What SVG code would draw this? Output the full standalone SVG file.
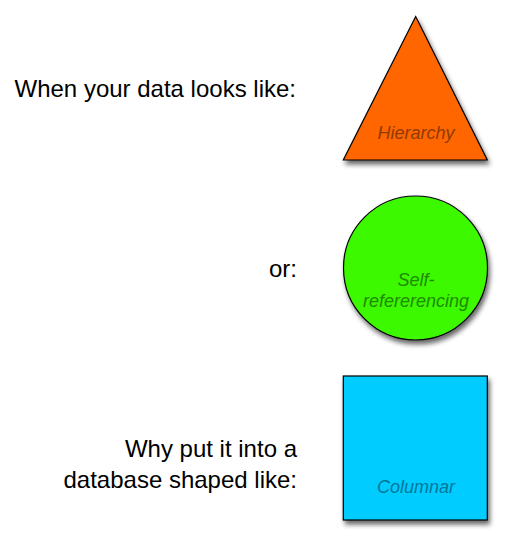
<svg xmlns="http://www.w3.org/2000/svg" width="507" height="544" viewBox="0 0 507 544">
<style>
.t{font-family:"Liberation Sans",Arial,sans-serif;font-size:24px;fill:#000;text-anchor:end}
.l{font-family:"Liberation Sans",Arial,sans-serif;font-size:18px;font-style:italic;text-anchor:middle}
.s{stroke:#000;stroke-width:1.2}
</style>
<defs>
<filter id="sh" x="-20%" y="-20%" width="140%" height="140%">
<feGaussianBlur in="SourceAlpha" stdDeviation="2.5"/>
<feOffset dx="2" dy="4" result="b"/>
<feComponentTransfer><feFuncA type="linear" slope="0.6"/></feComponentTransfer>
<feMerge><feMergeNode/><feMergeNode in="SourceGraphic"/></feMerge>
</filter>
</defs>
<rect width="507" height="544" fill="#fff"/>
<g id="text-left">
<text class="t" x="296" y="97">When your data looks like:</text>
<text class="t" x="297" y="277">or:</text>
<text class="t" x="297" y="457">Why put it into a</text>
<text class="t" x="297" y="488">database shaped like:</text>
</g>
<g id="hierarchy">
<polygon class="s" points="415.7,16.5 343.3,160 487.3,160" fill="#FF6600" filter="url(#sh)"/>
<text class="l" x="416" y="139" fill="#8F3A00">Hierarchy</text>
</g>
<g id="self-referencing">
<circle class="s" cx="415.5" cy="268" r="72" fill="#3DF900" filter="url(#sh)"/>
<text class="l" x="416" y="286" fill="#1E8A00">Self-</text>
<text class="l" x="416" y="307" fill="#1E8A00">refererencing</text>
</g>
<g id="columnar">
<rect class="s" x="343.3" y="376" width="144" height="144" fill="#00CCFF" filter="url(#sh)"/>
<text class="l" x="416" y="493" fill="#007799">Columnar</text>
</g>
<g id="connectors"/>
</svg>
